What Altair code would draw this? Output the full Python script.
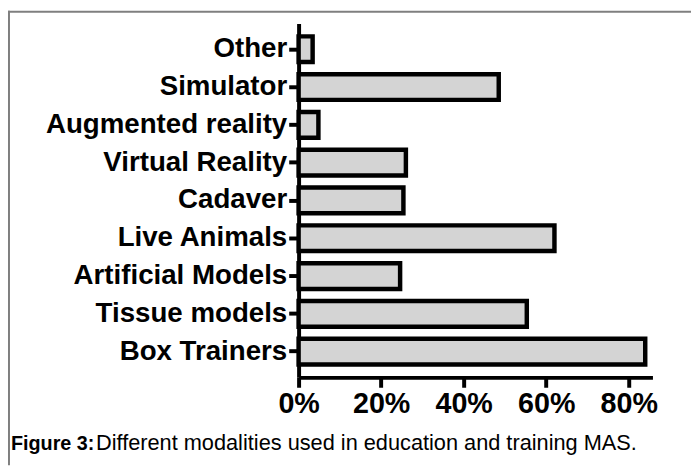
import altair as alt
import pandas as pd

categories = ["Other", "Simulator", "Augmented reality", "Virtual Reality", "Cadaver",
              "Live Animals", "Artificial Models", "Tissue models", "Box Trainers"]
values = [3.4, 48.5, 4.8, 26.0, 25.4, 62.0, 24.6, 55.3, 84.0]
x_ticks = [0, 20, 40, 60, 80]
caption_bold = "Figure 3:"
caption_rest = "Different modalities used in education and training MAS."

df = pd.DataFrame({"modality": categories, "pct": values})
one = pd.DataFrame({"k": [0]})

W, H = 358, 358
PL, PT, PR, PB = 294, 13, 39, 89

bars = alt.Chart(df).mark_bar(
    fill="#d4d4d4", stroke="black", strokeWidth=4.5
).encode(
    x=alt.X("pct:Q",
            scale=alt.Scale(domain=[0, 85.75], nice=False, zero=True),
            axis=alt.Axis(values=x_ticks, labelExpr="datum.value + '%'", title=None,
                          grid=False, labelFontSize=29, labelFontWeight="bold",
                          labelFont="Liberation Sans", labelColor="black",
                          labelFlush=False, labelOverlap=False,
                          domainColor="black", domainWidth=4, tickColor="black",
                          tickWidth=4, tickSize=10, labelPadding=3)),
    y=alt.Y("modality:N", sort=categories,
            scale=alt.Scale(paddingInner=0.32, paddingOuter=0.34),
            axis=alt.Axis(title=None, labelFontSize=28, labelFontWeight="bold",
                          labelFont="Liberation Sans", labelColor="black", labelLimit=0,
                          domainColor="black", domainWidth=4, tickColor="black",
                          tickWidth=4, tickSize=10, labelPadding=2)),
)

top_rule = alt.Chart(one).mark_rule(color="#7f7f7f", strokeWidth=2).encode(
    x=alt.value(-PL), x2=alt.value(W + PR), y=alt.value(-PT + 1)
)
left_rule = alt.Chart(one).mark_rule(color="#7f7f7f", strokeWidth=2).encode(
    x=alt.value(-PL + 1), y=alt.value(-PT), y2=alt.value(H + PB)
)
cap1 = alt.Chart(one).mark_text(
    align="left", baseline="alphabetic", fontSize=20, fontWeight="bold",
    font="Liberation Sans", color="black"
).encode(x=alt.value(11 - 8 - PL), y=alt.value(452 - 8 - PT), text=alt.value(caption_bold))
cap2 = alt.Chart(one).mark_text(
    align="left", baseline="alphabetic", fontSize=22, fontWeight="normal",
    font="Liberation Sans", color="black"
).encode(x=alt.value(97 - 8 - PL), y=alt.value(452 - 8 - PT), text=alt.value(caption_rest))

chart = alt.layer(bars, top_rule, left_rule, cap1, cap2).properties(
    width=W, height=H,
    padding={"left": PL, "top": PT, "right": PR, "bottom": PB},
    autosize=alt.AutoSizeParams(type="none"),
    background="white",
).configure_view(stroke=None)

chart.save("out.html", embed_options={"renderer": "svg", "actions": False})
